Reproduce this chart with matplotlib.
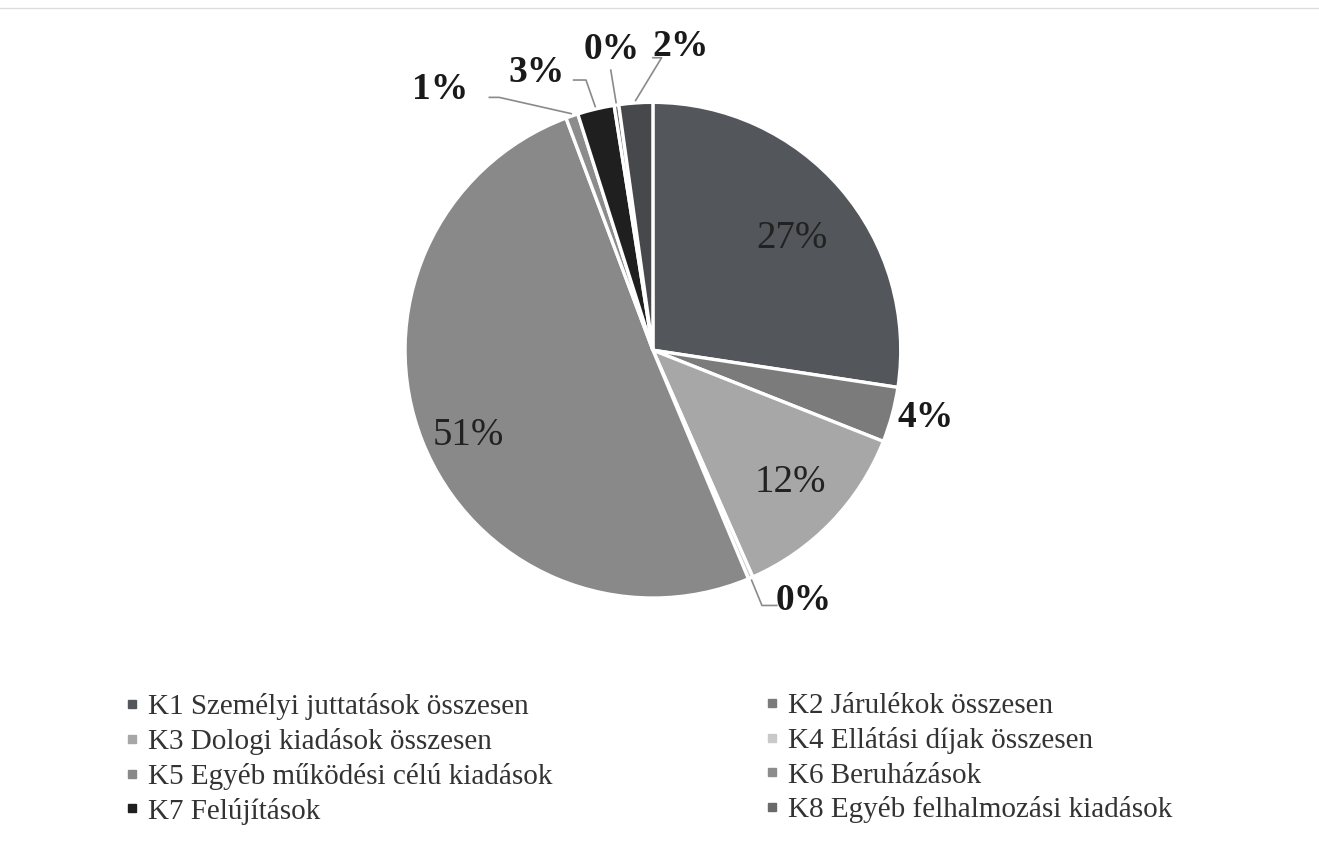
import numpy as np
import matplotlib
matplotlib.use('Agg')
import matplotlib.pyplot as plt
from matplotlib.lines import Line2D

# kiadási tételek megoszlása
categories = ['K1 Személyi juttatások összesen', 'K2 Járulékok összesen',
              'K3 Dologi kiadások összesen', 'K4 Ellátási díjak összesen',
              'K5 Egyéb működési célú kiadások', 'K6 Beruházások',
              'K7 Felújítások', 'K8 Egyéb felhalmozási kiadások', 'K9']
shares = [27.4, 3.6, 12.4, 0.3, 50.6, 0.8, 2.4, 0.3, 2.2]
pct_labels = ['27%', '4%', '12%', '0%', '51%', '1%', '3%', '0%', '2%']
colors = ['#53565a', '#7b7b7b', '#a7a7a7', '#c9c9c9', '#898989',
          '#8c8c8c', '#1f1f1f', '#6a6a6a', '#46484b']

plt.rcParams['font.family'] = ['Liberation Serif', 'DejaVu Serif']

fig = plt.figure(figsize=(13.19, 8.43), dpi=100)
ax = fig.add_axes([0.307, 0.2906, 0.376, 0.588])
wedges, _ = ax.pie(shares, colors=colors, startangle=90, counterclock=False,
                   radius=1, wedgeprops=dict(edgecolor='white', linewidth=2.4))
ax.set_xlim(-1, 1)
ax.set_ylim(-1, 1)
ax.set_aspect('equal')
ax.axis('off')

# middle angle of each wedge
mids = []
for w in wedges:
    mids.append(np.deg2rad((w.theta1 + w.theta2) / 2))

# inside labels (radius, small vertical shift)
inside = {0: (0.74, -0.03), 2: (0.77, 0.0), 4: (0.80, -0.05)}
for i, (r, dy) in inside.items():
    ax.text(r * np.cos(mids[i]), r * np.sin(mids[i]) + dy, pct_labels[i],
            ha='center', va='center', fontsize=28, color='#222222')

# outside labels
text_pos = {1: (1.10, -0.27), 3: (0.61, -1.01), 5: (-0.86, 1.05),
            6: (-0.47, 1.12), 7: (-0.165, 1.215), 8: (0.11, 1.225)}
for i, tpos in text_pos.items():
    ax.text(tpos[0], tpos[1], pct_labels[i], ha='center', va='center',
            fontsize=27, fontweight='bold', color='#1a1a1a')

# leader lines (start on the wedge edge)
legs = {
    3: ([0.44, 0.50], [-1.03, -1.03]),
    5: ([-0.62, -0.66], [1.02, 1.02]),
    6: ([-0.27, -0.32], [1.09, 1.09]),
    7: ([-0.17], [1.13]),
    8: ([0.035, 0.0], [1.18, 1.18]),
}
for i, (lx, ly) in legs.items():
    ex, ey = np.cos(mids[i]) * 1.01, np.sin(mids[i]) * 1.01
    ax.plot([ex] + lx, [ey] + ly, color='#8a8a8a', linewidth=1.2,
            clip_on=False)

# legend in two columns, row order like the reference
def make_handles(idx):
    return [Line2D([], [], linestyle='none', marker='s', markersize=6,
                   color=colors[i]) for i in idx]

col1 = [0, 2, 4, 6]
col2 = [1, 3, 5, 7]
leg_kw = dict(loc='upper left', frameon=False, fontsize=21,
              handletextpad=0.3, handlelength=0.5, labelspacing=0.27,
              borderpad=0, borderaxespad=0, labelcolor='#333333')
fig.legend(make_handles(col1), [categories[i] for i in col1],
           bbox_to_anchor=(125 / 1319, 1 - 693 / 843), **leg_kw)
fig.legend(make_handles(col2), [categories[i] for i in col2],
           bbox_to_anchor=(765 / 1319, 1 - 693 / 843), **leg_kw)

# thin scan border line at the top
fig.add_artist(Line2D([0, 1], [0.991, 0.991], color='#dddddd', linewidth=1))

fig.savefig('out.png', dpi=100, facecolor='white')
